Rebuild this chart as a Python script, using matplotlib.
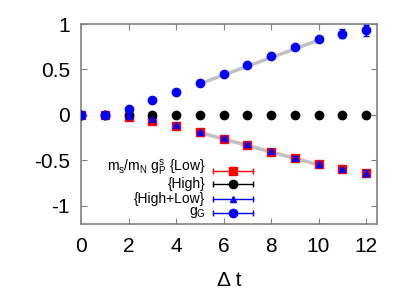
import numpy as np
import matplotlib.pyplot as plt

plt.rcParams['font.family'] = ['Liberation Sans', 'DejaVu Sans']
plt.rcParams['mathtext.fontset'] = 'custom'
plt.rcParams['mathtext.rm'] = 'Liberation Sans'
plt.rcParams['mathtext.it'] = 'Liberation Sans'

# data
dt = np.arange(13)
gP_low = [0, 0, -0.02, -0.065, -0.125, -0.19, -0.26, -0.33, -0.405, -0.475, -0.545, -0.60, -0.635]
gP_low_err = [0.003, 0.004, 0.006, 0.008, 0.01, 0.01, 0.012, 0.012, 0.014, 0.016, 0.018, 0.02, 0.025]
gP_high = [0] * 13
gP_high_err = [0.002] * 13
gP_both = [0, 0, -0.01, -0.05, -0.115, -0.185, -0.255, -0.325, -0.40, -0.47, -0.54, -0.60, -0.64]
gP_both_err = [0.003, 0.004, 0.006, 0.008, 0.01, 0.01, 0.012, 0.012, 0.014, 0.016, 0.018, 0.02, 0.03]
gG = [0, 0, 0.07, 0.16, 0.255, 0.35, 0.45, 0.55, 0.65, 0.745, 0.83, 0.895, 0.93]
gG_err = [0.003, 0.004, 0.006, 0.008, 0.01, 0.01, 0.012, 0.014, 0.016, 0.02, 0.025, 0.045, 0.06]

# linear fit bands (t range, value at ends)
fit_t = [5, 10]
fit_gG = [0.35, 0.83]
fit_gP = [-0.19, -0.545]
band = 0.02

labels = [r'm$_{\rm s}$/m$_{\rm N}$ g$_{\rm P}^{\rm s}$ {Low}', '{High}', '{High+Low}', r'g$_{\rm G}$']

fig = plt.figure(figsize=(4.15, 2.91), dpi=100)
ax = fig.add_axes([81/415, 67/291, 296/415, 200/291])

tt = np.linspace(fit_t[0], fit_t[1], 50)
for v in (fit_gG, fit_gP):
    yy = np.interp(tt, fit_t, v)
    ax.fill_between(tt, yy - band, yy + band, color='#c0c0c0', lw=0, zorder=1)

ms = 6
ax.errorbar(dt, gP_low, yerr=gP_low_err, fmt='s', color='red', ms=ms, capsize=2, elinewidth=1, zorder=3)
ax.errorbar(dt, gP_high, yerr=gP_high_err, fmt='o', color='black', ms=ms, capsize=2, elinewidth=1, zorder=3)
ax.errorbar(dt, gP_both, yerr=gP_both_err, fmt='^', color='blue', ms=5, capsize=2, elinewidth=1, zorder=4)
ax.errorbar(dt, gG, yerr=gG_err, fmt='o', color='blue', ms=ms, capsize=2, elinewidth=1, zorder=5)

# gnuplot-style key
styles = [('s', 'red', ms), ('o', 'black', ms), ('^', 'blue', 5), ('o', 'blue', ms)]
ys = [0.267, 0.2, 0.125, 0.057]
text_dy = [0.012, 0, 0, 0]
for lab, (m, c, s), y, d in zip(labels, styles, ys, text_dy):
    ax.text(0.42, y + d, lab, transform=ax.transAxes, ha='right', va='center', fontsize=10)
    ax.plot([0.446, 0.581], [y, y], color=c, lw=1, transform=ax.transAxes, zorder=6)
    ax.plot([0.446, 0.581], [y, y], ls='none', marker='|', ms=4, color=c, transform=ax.transAxes, zorder=6)
    ax.plot([0.5135], [y], marker=m, color=c, ms=s, ls='none', transform=ax.transAxes, zorder=6)

ax.set_xlim(0, 12.46)
ax.set_ylim(-1.2, 1.0)
ax.set_xticks(range(0, 13, 2))
ax.set_yticks([-1, -0.5, 0, 0.5, 1])
ax.set_yticklabels(['-1', '-0.5', '0', '0.5', '1'])
ax.tick_params(direction='in', top=True, right=True, length=4, color='#808080',
               labelsize=15)
ax.tick_params(axis='x', pad=9)
ax.tick_params(axis='y', pad=8)
for sp in ax.spines.values():
    sp.set_color('#808080')
    sp.set_linewidth(1.2)
ax.set_xlabel('\u0394 t', fontsize=15, labelpad=11)

fig.savefig('out.png', dpi=100)
